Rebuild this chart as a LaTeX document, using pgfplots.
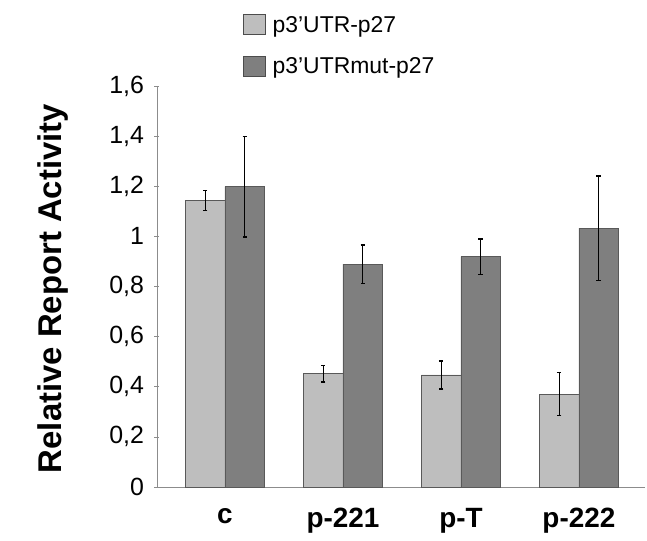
\documentclass[border=0pt]{standalone}
\usepackage{fontspec}
\setmainfont{Liberation Sans}
\usepackage{pgfplots}
\pgfplotsset{compat=1.18}

\definecolor{barlight}{HTML}{BEBEBE}
\definecolor{bardark}{HTML}{7F7F7F}
\definecolor{axisgray}{HTML}{8C8C8C}

\begin{document}
\begin{tikzpicture}
\begin{axis}[
    at={(0,0)}, anchor=south west,
    scale only axis,
    width=488bp, height=401bp,
    ybar=0pt,
    bar width=39.5bp,
    xmin=-0.576, xmax=3.56,
    ymin=0, ymax=1.6,
    xtick={0,1,2,3},
    xticklabels={c,p-221,p-T,p-222},
    x tick style={draw=none},
    xticklabel style={font=\fontsize{28}{28}\selectfont\bfseries, anchor=north, yshift=-15bp},
    ytick={0,0.2,...,1.6},
    y tick style={axisgray, line width=0.6pt},
    tick align=outside,
    major tick length=5bp,
    yticklabel style={font=\fontsize{25}{25}\selectfont, xshift=-7bp},
    /pgf/number format/.cd, use comma, fixed, assume math mode=true,
    /pgfplots/.cd,
    axis x line=bottom, axis y line=left,
    axis line style={axisgray, line width=0.8pt, -},
    ylabel={\bfseries Relative Report Activity},
    ylabel style={font=\fontsize{33}{33}\selectfont, at={(axis description cs:-0.213,0.495)}, anchor=center},
    legend style={at={(0.176,1.18)}, anchor=north west, draw=none, fill=none,
        inner sep=0pt, row sep=20bp, column sep=5bp,
        font=\fontsize{23}{23}\selectfont},
    legend cell align=left,
    legend image code/.code={\draw[#1, draw=black!70] (0bp,-10bp) rectangle (22bp,10bp);},
    error bars/y dir=both, error bars/y explicit,
    error bars/error bar style={black, line width=1.1pt},
    error bars/error mark options={rotate=90, mark size=2.2bp, black, line width=1.3pt},
]
\addplot[fill=barlight, draw=black!65, line width=0.6pt] coordinates {
    (0,1.143) +- (0,0.04)
    (1,0.452) +- (0,0.033)
    (2,0.447) +- (0,0.056)
    (3,0.371) +- (0,0.087)
};
\addplot[fill=bardark, draw=black!65, line width=0.6pt] coordinates {
    (0,1.198) +- (0,0.2)
    (1,0.889) +- (0,0.077)
    (2,0.919) +- (0,0.070)
    (3,1.033) +- (0,0.208)
};
\legend{p3’UTR-p27, p3’UTRmut-p27}
\end{axis}
\pgfresetboundingbox
\path[use as bounding box] (-157bp,-54bp) rectangle (490bp,487bp);
\end{tikzpicture}
\end{document}
